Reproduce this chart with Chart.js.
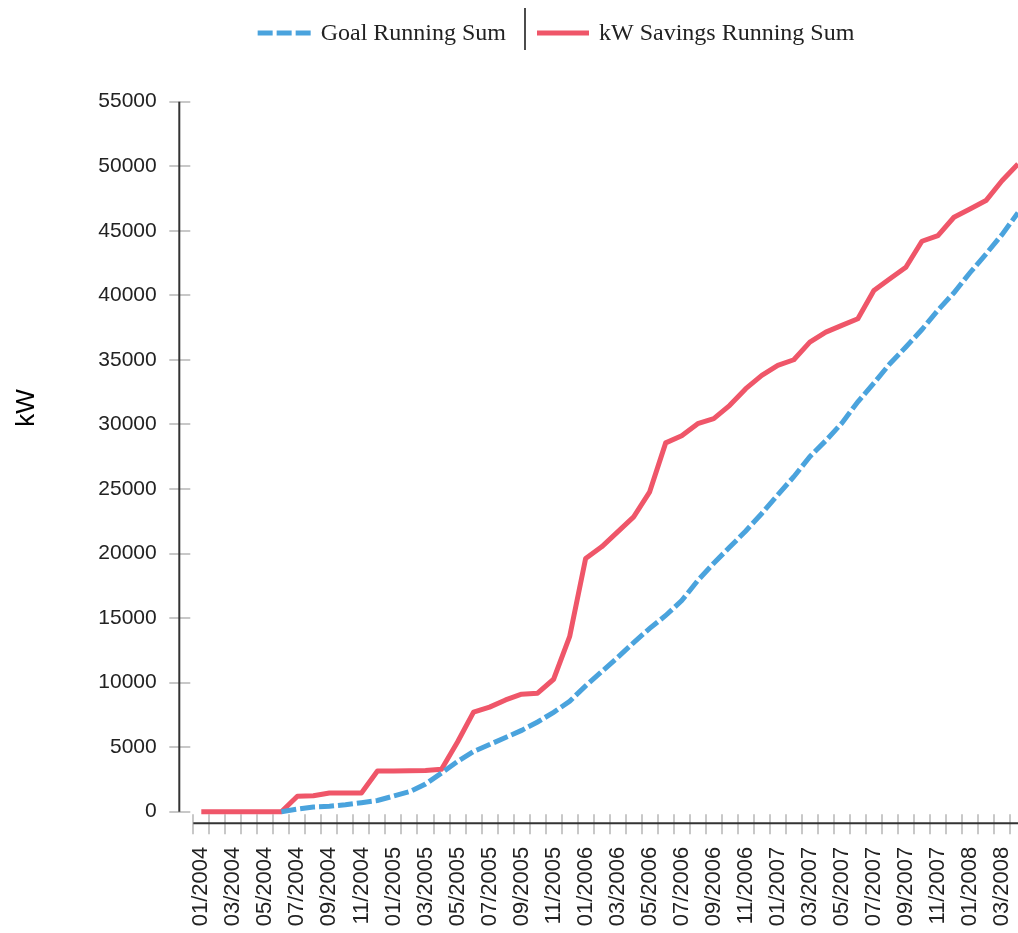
<!DOCTYPE html>
<html>
<head>
<meta charset="utf-8">
<script src="https://cdn.jsdelivr.net/npm/chart.js@4.4.1/dist/chart.umd.min.js"></script>
<style>
  html, body { margin: 0; padding: 0; background: #fff; overflow: hidden; }
</style>
</head>
<body>
<canvas id="kw" width="1050" height="933"></canvas>
<script>
// categories (months)
const months = [
    '01/2004', '02/2004', '03/2004', '04/2004', '05/2004', '06/2004',
    '07/2004', '08/2004', '09/2004', '10/2004', '11/2004', '12/2004',
    '01/2005', '02/2005', '03/2005', '04/2005', '05/2005', '06/2005',
    '07/2005', '08/2005', '09/2005', '10/2005', '11/2005', '12/2005',
    '01/2006', '02/2006', '03/2006', '04/2006', '05/2006', '06/2006',
    '07/2006', '08/2006', '09/2006', '10/2006', '11/2006', '12/2006',
    '01/2007', '02/2007', '03/2007', '04/2007', '05/2007', '06/2007',
    '07/2007', '08/2007', '09/2007', '10/2007', '11/2007', '12/2007',
    '01/2008', '02/2008', '03/2008', '04/2008'
];

// series values
const goalRunningSum = [
    null, null, null, null, null, 0,
    200, 360, 420, 540, 700, 870,
    1210, 1550, 2140, 2990, 3890, 4660,
    5200, 5750, 6300, 6950, 7700, 8550,
    9750, 10850, 11950, 13100, 14200, 15200,
    16350, 17900, 19250, 20500, 21750, 23100,
    24550, 25950, 27500, 28750, 30100, 31750,
    33200, 34700, 36000, 37350, 38850, 40200,
    41750, 43200, 44700, 46400
];
const savingsRunningSum = [
    0, 0, 0, 0, 0, 0,
    1200, 1230, 1450, 1450, 1450, 3150,
    3150, 3180, 3200, 3280, 5400, 7710,
    8100, 8660, 9100, 9180, 10260, 13560,
    19620, 20520, 21680, 22840, 24780, 28570,
    29120, 30060, 30450, 31480, 32770, 33800,
    34580, 35010, 36380, 37150, 37670, 38190,
    40380, 41280, 42180, 44190, 44630, 46050,
    46690, 47340, 48880, 50180
];

// y tick range
const yMin = 0;
const yMax = 55000;
const yStep = 5000;

// Axis lines + tick marks (drawn off the plot edge like the original)
const axisLines = {
    id: 'axisLines',
    beforeDatasetsDraw(chart) {
        const ctx = chart.ctx;
        const area = chart.chartArea;
        const x = chart.scales.x;
        const y = chart.scales.y;
        const zeroY = y.getPixelForValue(yMin);
        const topY = y.getPixelForValue(yMax);
        const axisX = area.left - 14;
        const axisY = zeroY + 11.5;
        const half = (x.getPixelForValue(1) - x.getPixelForValue(0)) / 2;

        ctx.save();
        ctx.strokeStyle = '#c8c8c8';
        ctx.lineWidth = 2;
        ctx.beginPath();
        y.ticks.forEach(function (t) {
            const py = Math.round(y.getPixelForValue(t.value));
            ctx.moveTo(axisX - 10, py);
            ctx.lineTo(axisX + 11, py);
        });
        for (let i = 0; i <= months.length; i++) {
            const px = Math.round(x.getPixelForValue(i) - half);
            ctx.moveTo(px, axisY - 9);
            ctx.lineTo(px, axisY + 11);
        }
        ctx.stroke();

        ctx.strokeStyle = '#333';
        ctx.lineWidth = 2;
        ctx.beginPath();
        ctx.moveTo(axisX, topY);
        ctx.lineTo(axisX, zeroY);
        ctx.moveTo(area.left, axisY);
        ctx.lineTo(area.right, axisY);
        ctx.stroke();

        // y axis title
        ctx.fillStyle = '#000';
        ctx.font = '26px "Liberation Sans"';
        ctx.textAlign = 'center';
        ctx.textBaseline = 'middle';
        ctx.translate(27, 408);
        ctx.rotate(-Math.PI / 2);
        ctx.fillText('kW', 0, 0);
        ctx.restore();
    }
};

// Legend with a divider between the two items
const splitLegend = {
    id: 'splitLegend',
    afterDraw(chart) {
        const ctx = chart.ctx;
        const sets = chart.data.datasets;
        const cy = 33;
        ctx.save();
        ctx.font = '24px "Liberation Serif"';
        const w = sets.map(d => ctx.measureText(d.label).width);
        const total = 55 + 8 + w[0] + 19 + 12 + 52 + 10 + w[1];
        let x = 556 - total / 2;

        function item(d, sw, gap, tw) {
            ctx.strokeStyle = d.borderColor;
            ctx.lineWidth = d.borderWidth;
            ctx.setLineDash(d.borderDash || []);
            ctx.beginPath();
            ctx.moveTo(x, cy);
            ctx.lineTo(x + sw, cy);
            ctx.stroke();
            ctx.setLineDash([]);
            x += sw + gap;
            ctx.fillStyle = '#222';
            ctx.textBaseline = 'middle';
            ctx.fillText(d.label, x, cy + 1);
            x += tw;
        }

        item(sets[0], 55, 8, w[0]);
        x += 19;
        ctx.strokeStyle = '#111';
        ctx.lineWidth = 1.5;
        ctx.beginPath();
        ctx.moveTo(x, 8);
        ctx.lineTo(x, 50);
        ctx.stroke();
        x += 12;
        item(sets[1], 52, 10, w[1]);
        ctx.restore();
    }
};

const configkw = {
    type: 'line',
    data: {
        labels: months,
        datasets: [{
            label: 'Goal Running Sum',
            data: goalRunningSum,
            borderColor: '#4aa3dd',
            borderWidth: 5,
            borderDash: [15, 4],
            pointRadius: 0,
            tension: 0,
            clip: false,
            order: 1
        }, {
            label: 'kW Savings Running Sum',
            data: savingsRunningSum,
            borderColor: '#ef5669',
            borderWidth: 5,
            borderJoinStyle: 'round',
            pointRadius: 0,
            tension: 0,
            clip: false,
            order: 2
        }]
    },
    options: {
        responsive: false,
        animation: false,
        layout: { padding: { top: 101.7, right: 24, bottom: 0, left: 0 } },
        plugins: {
            legend: { display: false },
            tooltip: { enabled: false }
        },
        scales: {
            x: {
                offset: true,
                grid: { display: false, drawTicks: false, offset: true },
                border: { display: false },
                afterFit(scale) {
                    scale.height = 121.3;
                    scale.paddingLeft = 0;
                    scale.paddingRight = 0;
                },
                ticks: {
                    autoSkip: false,
                    maxRotation: 90,
                    minRotation: 90,
                    padding: 35,
                    color: '#222',
                    font: { family: 'Liberation Sans', size: 22 },
                    callback: function (v, i) { return i % 2 === 0 ? months[i] : ''; }
                }
            },
            y: {
                min: yMin,
                max: yMax,
                grid: { display: false, drawTicks: false },
                border: { display: false },
                afterFit(scale) {
                    scale.width = 193.3;
                    scale.paddingTop = 0;
                    scale.paddingBottom = 0;
                },
                ticks: {
                    stepSize: yStep,
                    padding: 36.6,
                    color: '#222',
                    font: { family: 'Liberation Sans', size: 21 },
                    callback: function (v) { return String(v); }
                }
            }
        }
    },
    plugins: [axisLines, splitLegend]
};

const chartkw = new Chart(document.getElementById('kw'), configkw);
</script>
</body>
</html>
